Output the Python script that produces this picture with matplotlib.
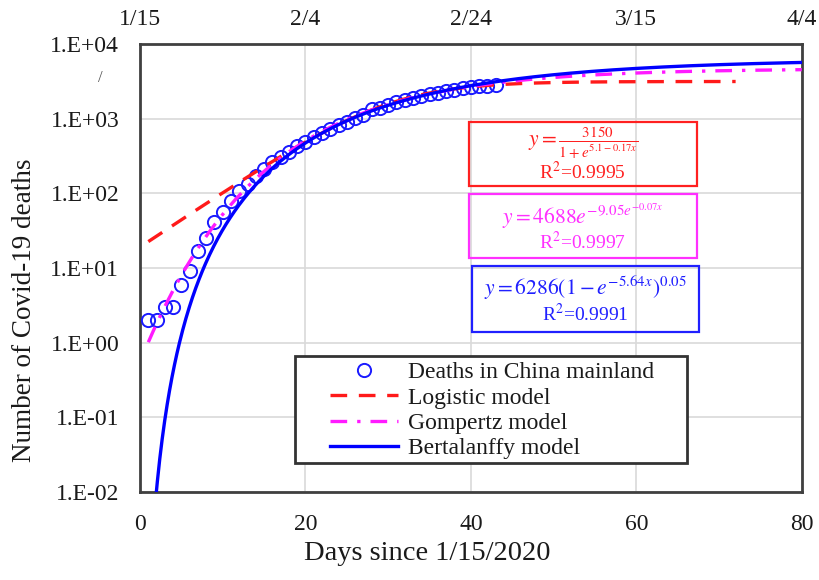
import numpy as np
import matplotlib
matplotlib.use("Agg")
import matplotlib.pyplot as plt
from matplotlib.patches import Rectangle

plt.rcParams["font.family"] = ["Liberation Serif", "DejaVu Serif"]
plt.rcParams["mathtext.fontset"] = "stix"

# cumulative deaths, China mainland (day 1 = 1/16/2020)
days = list(range(1, 44))
deaths = [2, 2, 3, 3, 6, 9, 17, 25, 41, 56, 80, 106, 132, 170, 213, 259, 304,
          361, 425, 490, 563, 636, 722, 811, 908, 1016, 1113, 1367, 1380, 1523,
          1665, 1770, 1868, 2004, 2118, 2236, 2345, 2442, 2592, 2663, 2715,
          2744, 2788]

# fitted model parameters
logistic_k, logistic_a, logistic_b = 3150, 5.1, 0.17
gompertz_k, gompertz_a, gompertz_b = 4688, 9.05, 0.07
bert_k, bert_rate, bert_pow = 6286, 0.05, 5.64

x_ticks = [0, 20, 40, 60, 80]
date_labels = ["1/15", "2/4", "2/24", "3/15", "4/4"]
y_ticks = [1e-2, 1e-1, 1e0, 1e1, 1e2, 1e3, 1e4]
y_labels = ["1.E-02", "1.E-01", "1.E+00", "1.E+01", "1.E+02", "1.E+03", "1.E+04"]

x_log = np.linspace(1, 72, 300)
x_gom = np.linspace(1, 80, 400)
x_bert = np.linspace(1, 80, 800)

y_log = logistic_k / (1 + np.exp(logistic_a - logistic_b * x_log))
y_gom = gompertz_k * np.exp(-gompertz_a * np.exp(-gompertz_b * x_gom))
y_bert = bert_k * (1 - np.exp(-bert_rate * x_bert)) ** bert_pow

txt = "#1a1a1a"

fig = plt.figure(figsize=(8.19, 5.8), dpi=100)
ax = fig.add_axes([0.171, 0.1517, 0.808, 0.7724])

ax.plot(days, deaths, "o", ms=9.5, mfc="none", mec="#1a1aff", mew=1.4,
        label="Deaths in China mainland", zorder=3)
ax.plot(x_log, y_log, color="#ff1a1a", lw=2.4, dashes=(5, 3.5),
        label="Logistic model", zorder=4)
ax.plot(x_gom, y_gom, color="#ff1aff", lw=2.4, dashes=(5, 3, 1, 3),
        label="Gompertz model", zorder=4)
ax.plot(x_bert, y_bert, color="#0000ff", lw=2.4, label="Bertalanffy model",
        zorder=5)

ax.set_yscale("log")
ax.set_xlim(0, 80)
ax.set_ylim(1e-2, 1e4)
ax.set_xticks(x_ticks)
ax.set_yticks(y_ticks)
ax.set_yticklabels(y_labels)
ax.minorticks_off()
ax.tick_params(length=0, labelsize=17, colors=txt)
ax.tick_params(axis="x", pad=16)
ax.tick_params(axis="y", pad=15)
ax.grid(True, color="#d9d9d9", lw=1.2)
ax.set_axisbelow(True)
for s in ax.spines.values():
    s.set_color("#404040")
    s.set_linewidth(2)

top = ax.secondary_xaxis("top")
top.set_xticks(x_ticks)
top.set_xticklabels(date_labels)
top.tick_params(length=0, labelsize=17, pad=10, colors=txt)
top.spines["top"].set_visible(False)

ax.set_xlabel("Days since 1/15/2020", fontsize=20.5, color=txt)
ax.xaxis.set_label_coords(0.434, -0.11)
ax.set_ylabel("Number of Covid-19 deaths", fontsize=19.5, color=txt)
ax.yaxis.set_label_coords(-0.155, 0.405)

# legend with its own frame
ax.add_patch(Rectangle((0.234, 0.065), 0.592, 0.239, transform=ax.transAxes,
                       fc="white", ec="#333333", lw=2, zorder=6))
leg = ax.legend(loc="lower left", bbox_to_anchor=(0.262, 0.036), frameon=False,
                handlelength=2.9, handletextpad=0.4, labelspacing=0.16,
                borderpad=0.2, prop={"size": 17})
for t in leg.get_texts():
    t.set_color(txt)
leg.set_zorder(7)

# equation boxes
boxes = [
    ((0.497, 0.683, 0.344, 0.143), "#ff2020",
     r"$y=\frac{3150}{1+e^{5.1-0.17x}}$", "R$^2$=0.9995", 0.67, 0.22, 15.5),
    ((0.497, 0.522, 0.344, 0.143), "#ff30ff",
     r"$y=4688e^{-9.05e^{-0.07x}}$", "R$^2$=0.9997", 0.66, 0.25, 15.5),
    ((0.5015, 0.357, 0.3425, 0.1475), "#2020ff",
     r"$y=6286(1-e^{-5.64x})^{0.05}$", "R$^2$=0.9991", 0.665, 0.28, 15.5),
]
for (bx, by, bw, bh), col, eq, r2, ey, ry, fs in boxes:
    ax.add_patch(Rectangle((bx, by), bw, bh, transform=ax.transAxes,
                           fill=False, ec=col, lw=1.6, zorder=6))
    cx = bx + bw / 2
    ax.text(cx, by + bh * ey, eq, transform=ax.transAxes, color=col,
            fontsize=fs, ha="center", va="center", zorder=7)
    ax.text(cx, by + bh * ry, r2, transform=ax.transAxes, color=col,
            fontsize=14, ha="center", va="center", zorder=7)

fig.text(100 / 819, 1 - 78 / 580, "/", fontsize=12, color="#555555",
         ha="center", va="center")

fig.savefig("out.png", dpi=100)
